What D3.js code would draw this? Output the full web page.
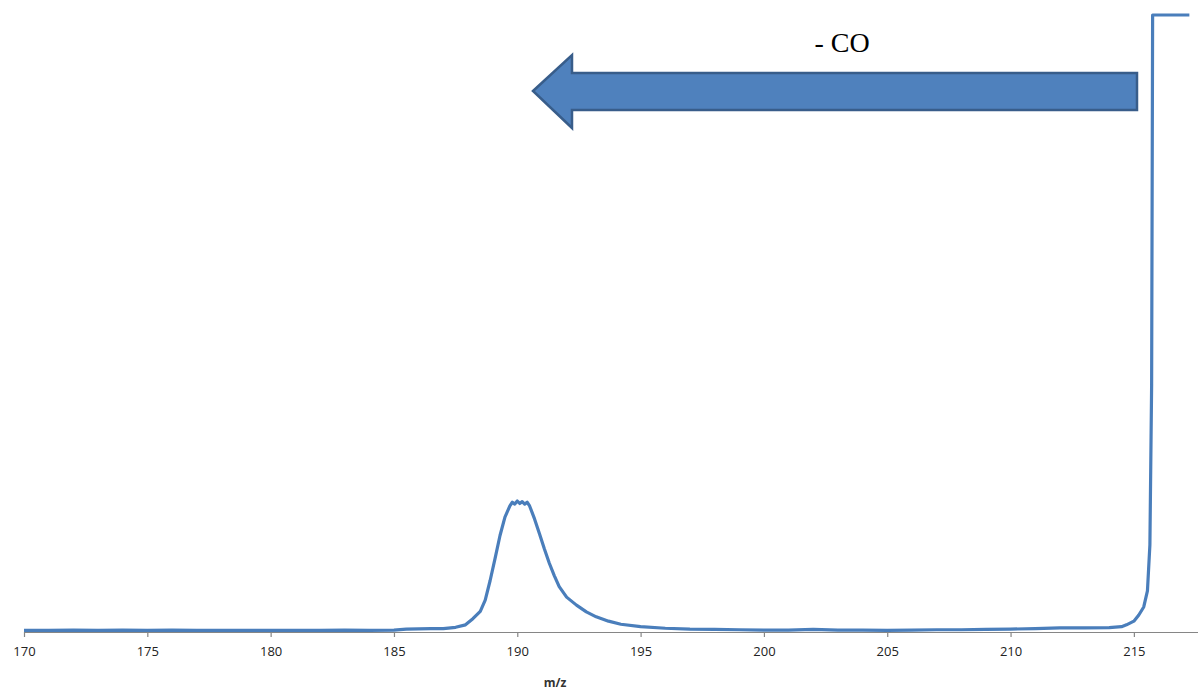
<!DOCTYPE html>
<html><head><meta charset="utf-8">
<script src="https://cdn.jsdelivr.net/npm/d3@7"></script>
<style>body{margin:0;background:#fff}svg{display:block}</style>
</head><body>
<svg id="chart" width="1198" height="691"></svg>
<script>
const mz = [170,171,172,173,174,175,176,177,178,179,180,181,182,183,184,185,185.5,186,186.5,187,187.5,187.9,188.2,188.5,188.7,188.9,189.1,189.3,189.5,189.7,189.8,189.9,190.0,190.1,190.2,190.3,190.4,190.5,190.7,190.9,191.1,191.3,191.5,191.7,192.0,192.4,192.8,193.2,193.7,194.2,195,196,197,198,199,200,201,202,203,204,205,206,207,208,209,210,211,212,213,214,214.5,214.7,215.0,215.2,215.4,215.55,215.65,215.72,215.76,216,216.5,217,217.25];
const intensity = [0.1,0.1,0.15,0.1,0.15,0.1,0.15,0.1,0.1,0.1,0.1,0.1,0.1,0.15,0.1,0.15,0.3,0.35,0.4,0.4,0.6,1.0,2.0,3.2,5.0,8.2,11.8,15.5,18.5,20.3,20.9,20.6,21.1,20.7,21.0,20.6,20.9,20.3,18.2,15.8,13.3,11.0,9.0,7.2,5.5,4.2,3.1,2.3,1.6,1.1,0.7,0.45,0.3,0.25,0.2,0.15,0.15,0.25,0.15,0.15,0.1,0.15,0.2,0.2,0.25,0.3,0.4,0.5,0.5,0.55,0.7,1.0,1.6,2.6,3.9,6.5,14,40,100,100,100,100,100];
const xTicks = [170,175,180,185,190,195,200,205,210,215];
const xLabel = "m/z";
const annotation = "- CO";

const svg = d3.select("#chart");
const x = d3.scaleLinear().domain([170, 217.6]).range([24, 1198]);
const y = d3.scaleLinear().domain([0, 100]).range([631, 15]);

// axis
const axisY = 632;
const ax = svg.append("g").attr("transform", `translate(0,${axisY})`)
  .call(d3.axisBottom(x).tickValues(xTicks).tickSize(5).tickSizeOuter(0).tickPadding(10).tickFormat(d3.format("d")));
ax.select(".domain").attr("stroke", "#868686").attr("stroke-width", 1.2);
ax.selectAll(".tick line").attr("stroke", "#868686").attr("stroke-width", 1.2);
ax.selectAll(".tick text").attr("fill", "#222").attr("font-family", "'Open Sans', 'Liberation Sans', sans-serif").attr("font-size", 13);

svg.append("text").attr("x", 555).attr("y", 687).attr("text-anchor", "middle")
  .attr("font-family", "'Open Sans', 'Liberation Sans', sans-serif").attr("font-size", 12).attr("font-weight", "bold")
  .attr("fill", "#333").text(xLabel);

// line
const data = mz.map((m, i) => [m, intensity[i]]);
svg.append("path").datum(data)
  .attr("fill", "none").attr("stroke", "#4a7ebb").attr("stroke-width", 3.2).attr("stroke-linejoin", "round")
  .attr("d", d3.line().x(d => x(d[0])).y(d => y(d[1])));

// arrow annotation
const ap = d3.path();
ap.moveTo(533, 91); ap.lineTo(572, 55); ap.lineTo(572, 73); ap.lineTo(1137, 73);
ap.lineTo(1137, 110); ap.lineTo(572, 110); ap.lineTo(572, 128); ap.closePath();
svg.append("path").attr("d", ap.toString()).attr("fill", "#4f81bd").attr("stroke", "#385d8a").attr("stroke-width", 2.5).attr("stroke-linejoin", "miter");

svg.append("text").attr("x", 842).attr("y", 52).attr("text-anchor", "middle")
  .attr("font-family", "'Liberation Serif', 'Times New Roman', serif").attr("font-size", 28).attr("fill", "#000").text(annotation);
</script>
</body></html>
